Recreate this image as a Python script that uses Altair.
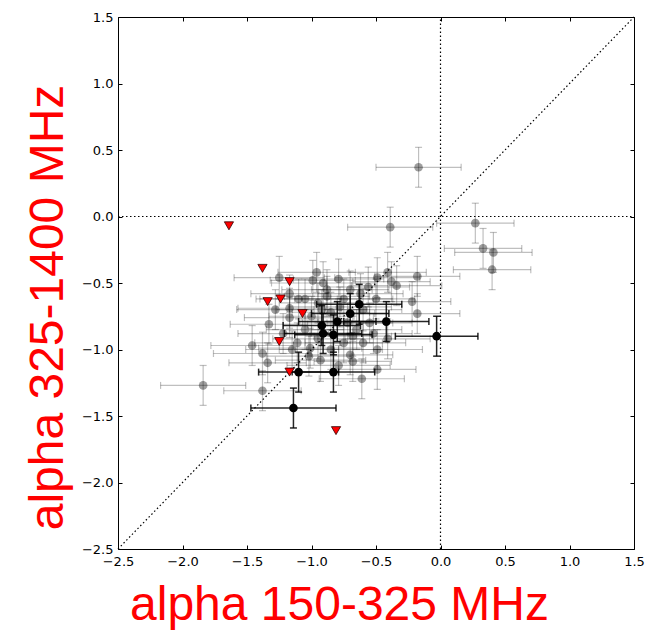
import altair as alt
import pandas as pd

# ---- data ----
ticks = [-2.5, -2.0, -1.5, -1.0, -0.5, 0.0, 0.5, 1.0, 1.5]
limits = [-2.5, 1.5]

gx = [-0.17, -0.39, 0.27, 0.33, 0.41, 0.40, -1.84, -1.38,
      -1.25, -1.17, -1.17, -1.17, -1.33, -1.46, -1.38, -1.34, -1.11, -1.15,
      -0.96, -0.99, -0.91, -0.79, -0.70, -0.49, -0.41, -0.56, -0.18, -0.38, -0.34, -0.22, -0.18,
      -1.01, -0.93, -0.70, -0.68, -0.61, -0.49, -0.49, -0.79,
      -1.05, -0.95, -0.88, -0.75, -0.60, -0.55, -0.65, -0.75, -0.85, -1.00, -1.05, -0.95,
      -0.60, -0.52, -0.41, -1.22, -1.28, -1.02, -0.72, -0.85, -0.62, -0.50,
      -0.88, -0.78, -1.10, -0.68, -0.92]
gy = [0.37, -0.08, -0.05, -0.24, -0.27, -0.40, -1.27, -1.31,
      -0.46, -0.58, -0.69, -0.76, -0.81, -0.97, -1.03, -1.10, -0.95, -1.00,
      -0.42, -0.48, -0.50, -0.47, -0.55, -0.46, -0.42, -0.53, -0.45, -0.49, -0.52, -0.64, -0.73,
      -0.99, -1.08, -1.04, -1.09, -1.22, -1.00, -1.15, -1.12,
      -0.62, -0.65, -0.60, -0.62, -0.70, -0.80, -0.85, -0.95, -1.00, -0.75, -0.85, -0.92,
      -0.95, -0.88, -0.92, -0.88, -0.70, -1.05, -0.80, -0.72, -0.58, -0.62,
      -0.55, -0.68, -0.62, -0.90, -0.70]
gxe = [0.33, 0.33, 0.30, 0.30, 0.30, 0.30, 0.33, 0.30,
       0.35, 0.30, 0.40, 0.35, 0.30, 0.32, 0.38, 0.30, 0.33, 0.36,
       0.30, 0.33, 0.40, 0.35, 0.30, 0.33, 0.30, 0.32, 0.33, 0.30, 0.35, 0.30, 0.33,
       0.40, 0.35, 0.33, 0.30, 0.33, 0.35, 0.30, 0.40,
       0.35, 0.30, 0.33, 0.38, 0.30, 0.33, 0.35, 0.30, 0.40, 0.33, 0.30, 0.35,
       0.33, 0.30, 0.33, 0.35, 0.30, 0.33, 0.35, 0.30, 0.33, 0.30,
       0.35, 0.40, 0.33, 0.30, 0.35]
gye = [0.15, 0.15, 0.15, 0.15, 0.15, 0.15, 0.15, 0.15,
       0.16, 0.14, 0.15, 0.15, 0.15, 0.15, 0.16, 0.15, 0.15, 0.14,
       0.15, 0.15, 0.16, 0.15, 0.14, 0.15, 0.15, 0.15, 0.15, 0.15, 0.15, 0.15, 0.15,
       0.15, 0.16, 0.15, 0.15, 0.15, 0.15, 0.15, 0.15,
       0.15, 0.15, 0.15, 0.15, 0.16, 0.15, 0.15, 0.15, 0.15, 0.15, 0.15, 0.15,
       0.15, 0.15, 0.15, 0.15, 0.15, 0.15, 0.15, 0.15, 0.15, 0.15,
       0.15, 0.15, 0.15, 0.15, 0.15]

bx = [-0.03, -0.42, -0.63, -0.70, -1.10, -0.83, -1.14, -0.80, -0.92, -0.83, -0.91]
by = [-0.90, -0.79, -0.66, -0.73, -1.17, -1.17, -1.44, -0.79, -0.82, -0.89, -0.88]
bxe = [0.32, 0.33, 0.33, 0.30, 0.31, 0.32, 0.33, 0.30, 0.30, 0.30, 0.30]
bye = [0.15, 0.15, 0.15, 0.15, 0.15, 0.15, 0.15, 0.15, 0.15, 0.15, 0.15]

rx = [-1.64, -1.38, -1.17, -1.34, -1.24, -1.07, -1.25, -1.17, -0.81]
ry = [-0.07, -0.39, -0.49, -0.64, -0.62, -0.73, -0.94, -1.17, -1.61]


def table(xs, ys, xe, ye):
    return pd.DataFrame({
        "x": xs, "y": ys,
        "xlo": [a - e for a, e in zip(xs, xe)], "xhi": [a + e for a, e in zip(xs, xe)],
        "ylo": [a - e for a, e in zip(ys, ye)], "yhi": [a + e for a, e in zip(ys, ye)],
    })


gray = table(gx, gy, gxe, gye)
black = table(bx, by, bxe, bye)
red = pd.DataFrame({"x": rx, "y": ry})

xs = alt.Scale(domain=limits, nice=False, zero=False)
ys = alt.Scale(domain=limits, nice=False, zero=False)

label_expr = "replace(datum.label, '-', '\u2212')"
common_axis = dict(values=ticks, format=".1f", labelExpr=label_expr, offset=-4, tickSize=4,
                   domain=False, grid=False, labelFlush=False, labelOverlap=False,
                   tickColor="black", labelColor="black", labelFont="DejaVu Sans", labelFontSize=13)
title_style = dict(titleFontSize=48, titleColor="red", titleFont="Liberation Sans",
                   titleFontWeight="normal", titleAlign="center", titleBaseline="alphabetic")

x_bottom = alt.Axis(orient="bottom", labelPadding=6, title="alpha 150-325 MHz",
                    titleX=221, titleY=74, **title_style, **common_axis)
y_left = alt.Axis(orient="left", labelPadding=5, title="alpha 325-1400 MHz",
                  titleX=-60, titleY=290, titleAngle=270, **title_style, **common_axis)
x_top = alt.Axis(orient="top", labels=False, title=None, values=ticks, offset=-4, tickSize=4,
                 domain=False, grid=False, tickColor="black")
y_right = alt.Axis(orient="right", labels=False, title=None, values=ticks, offset=-4, tickSize=4,
                   domain=False, grid=False, tickColor="black")

dots = [1.5, 2.5]
diag = alt.Chart(pd.DataFrame({"x": limits, "y": limits})).mark_line(
    color="black", strokeWidth=1.2, strokeDash=dots).encode(
    x=alt.X("x:Q", scale=xs, axis=x_bottom), y=alt.Y("y:Q", scale=ys, axis=y_left))
vline = alt.Chart(pd.DataFrame({"x": [0, 0], "y": limits})).mark_line(
    color="black", strokeWidth=1.2, strokeDash=dots).encode(
    x=alt.X("x:Q", scale=xs, axis=x_top), y=alt.Y("y:Q", scale=ys, axis=y_right))
hline = alt.Chart(pd.DataFrame({"x": limits, "y": [0, 0]})).mark_line(
    color="black", strokeWidth=1.2, strokeDash=dots).encode(
    x=alt.X("x:Q", scale=xs, axis=None), y=alt.Y("y:Q", scale=ys, axis=None))


def errorbars(df, opacity, width):
    base = alt.Chart(df)
    X = lambda f: alt.X(f + ":Q", scale=xs, axis=None)
    Y = lambda f: alt.Y(f + ":Q", scale=ys, axis=None)
    hbar = base.mark_rule(color="black", opacity=opacity, strokeWidth=width).encode(
        x=X("xlo"), x2="xhi:Q", y=Y("y"))
    vbar = base.mark_rule(color="black", opacity=opacity, strokeWidth=width).encode(
        x=X("x"), y=Y("ylo"), y2="yhi:Q")
    caps = []
    for f in ["xlo", "xhi"]:
        caps.append(base.mark_tick(color="black", opacity=opacity, orient="vertical",
                                   size=7, thickness=width).encode(x=X(f), y=Y("y")))
    for f in ["ylo", "yhi"]:
        caps.append(base.mark_tick(color="black", opacity=opacity, orient="horizontal",
                                   size=7, thickness=width).encode(x=X("x"), y=Y(f)))
    return [hbar, vbar] + caps


gray_pts = alt.Chart(gray).mark_point(filled=True, color="black", opacity=0.38, size=75).encode(
    x=alt.X("x:Q", scale=xs, axis=None), y=alt.Y("y:Q", scale=ys, axis=None))
black_pts = alt.Chart(black).mark_point(filled=True, color="black", opacity=1, size=75).encode(
    x=alt.X("x:Q", scale=xs, axis=None), y=alt.Y("y:Q", scale=ys, axis=None))
red_pts = alt.Chart(red).mark_point(shape="triangle-down", filled=True, fill="red",
                                    stroke="#300000", strokeWidth=0.8, opacity=1, size=85).encode(
    x=alt.X("x:Q", scale=xs, axis=None), y=alt.Y("y:Q", scale=ys, axis=None))

layers = [diag, vline, hline] + errorbars(gray, 0.25, 1.2) + [gray_pts] + \
    errorbars(black, 0.85, 1.5) + [black_pts, red_pts]

chart = alt.layer(*layers).resolve_axis(x="independent", y="independent").properties(
    width=516, height=532,
    autosize=alt.AutoSizeParams(type="none"),
    padding={"left": 110, "top": 9, "right": 15, "bottom": 86},
).configure_view(stroke="black", strokeWidth=1)

chart.save("out.html", embed_options={"renderer": "svg", "actions": False})
